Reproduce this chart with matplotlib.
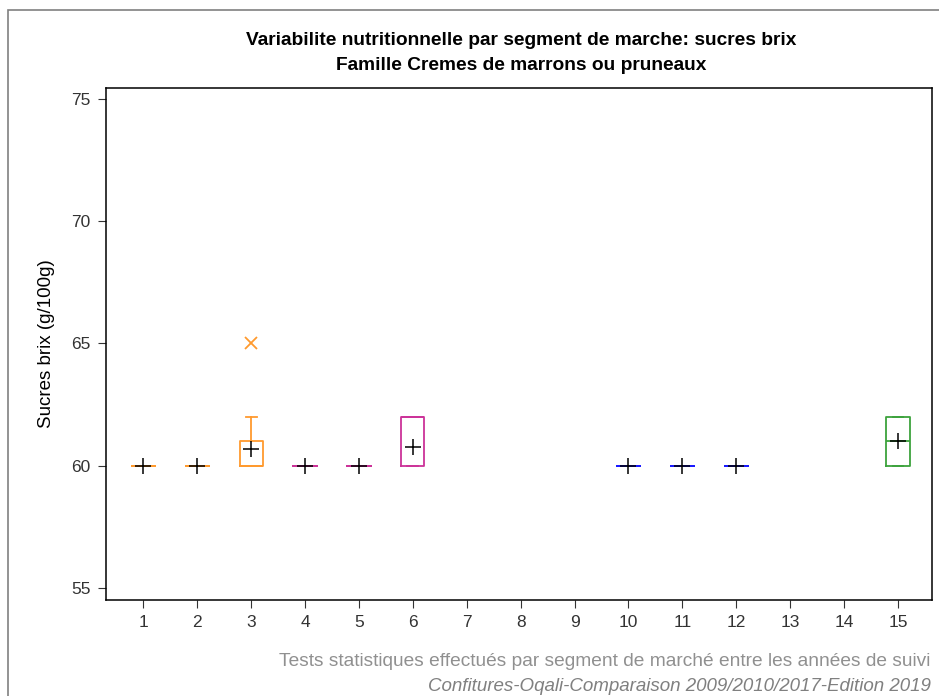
import matplotlib

matplotlib.use("Agg")
import matplotlib.pyplot as plt
from matplotlib.patches import Rectangle

# Segments de marche (positions 1..15) et statistiques des boites
segments = [1, 2, 3, 4, 5, 6, 10, 11, 12, 15]
q1 = [60, 60, 60, 60, 60, 60, 60, 60, 60, 60]
median = [60, 60, 60, 60, 60, 62, 60, 60, 60, 61]
q3 = [60, 60, 61, 60, 60, 62, 60, 60, 60, 62]
whis_lo = [60, 60, 60, 60, 60, 60, 60, 60, 60, 60]
whis_hi = [60, 60, 62, 60, 60, 62, 60, 60, 60, 62]
means = [60, 60, 60.67, 60, 60, 60.75, 60, 60, 60, 61]
outliers = [[], [], [65], [], [], [], [], [], [], []]
colors = ["#FF9A2E", "#FF9A2E", "#FF9A2E", "#CC3399", "#CC3399", "#CC3399",
          "#1A1AFF", "#1A1AFF", "#1A1AFF", "#3DA33D"]
xticks = list(range(1, 16))

plt.rcParams["font.family"] = ["Liberation Sans", "DejaVu Sans"]

fig = plt.figure(figsize=(9.39, 6.96), dpi=100)
ax = fig.add_axes([0.113, 0.138, 0.8795, 0.7355])

# cadre gris autour de la figure
fig.patches.append(Rectangle((8 / 939, -0.05), 1.05, 1 - 10 / 696 + 0.05,
                             transform=fig.transFigure, fill=False,
                             edgecolor="#808080", lw=1.2))

for i, x in enumerate(segments):
    stats = [dict(q1=q1[i], med=median[i], q3=q3[i], whislo=whis_lo[i],
                  whishi=whis_hi[i], mean=means[i], fliers=outliers[i])]
    c = colors[i]
    ax.bxp(stats, positions=[x], widths=0.43, showmeans=True,
           boxprops=dict(color=c, lw=1.3),
           medianprops=dict(color=c, lw=1.3),
           whiskerprops=dict(color=c, lw=1.3),
           capprops=dict(color=c, lw=1.3),
           capwidths=0.2,
           meanprops=dict(marker="+", markeredgecolor="black",
                          markersize=12, markeredgewidth=1.1),
           flierprops=dict(marker="x", markeredgecolor=c, markersize=8,
                           markeredgewidth=1.3))

ax.set_xlim(0.31, 15.63)
ax.set_ylim(54.5, 75.45)
ax.set_xticks(xticks)
ax.set_xticklabels([str(t) for t in xticks])
ax.set_yticks([55, 60, 65, 70, 75])
ax.tick_params(labelsize=12.5, length=6, pad=5, colors="#333333")
ax.set_ylabel("Sucres brix (g/100g)", fontsize=13.5, labelpad=12)
for s in ax.spines.values():
    s.set_linewidth(1.1)

fig.text(0.555, 0.942, "Variabilite nutritionnelle par segment de marche: sucres brix",
         ha="center", va="center", fontsize=13.8, fontweight="bold")
fig.text(0.555, 0.906, "Famille Cremes de marrons ou pruneaux",
         ha="center", va="center", fontsize=13.8, fontweight="bold")
fig.text(0.991, 0.049, "Tests statistiques effectués par segment de marché entre les années de suivi",
         ha="right", va="center", fontsize=13.8, color="#909090")
fig.text(0.991, 0.014, "Confitures-Oqali-Comparaison 2009/2010/2017-Edition 2019",
         ha="right", va="center", fontsize=13.5, color="#808080", style="italic")

fig.savefig("out.png", dpi=100)
